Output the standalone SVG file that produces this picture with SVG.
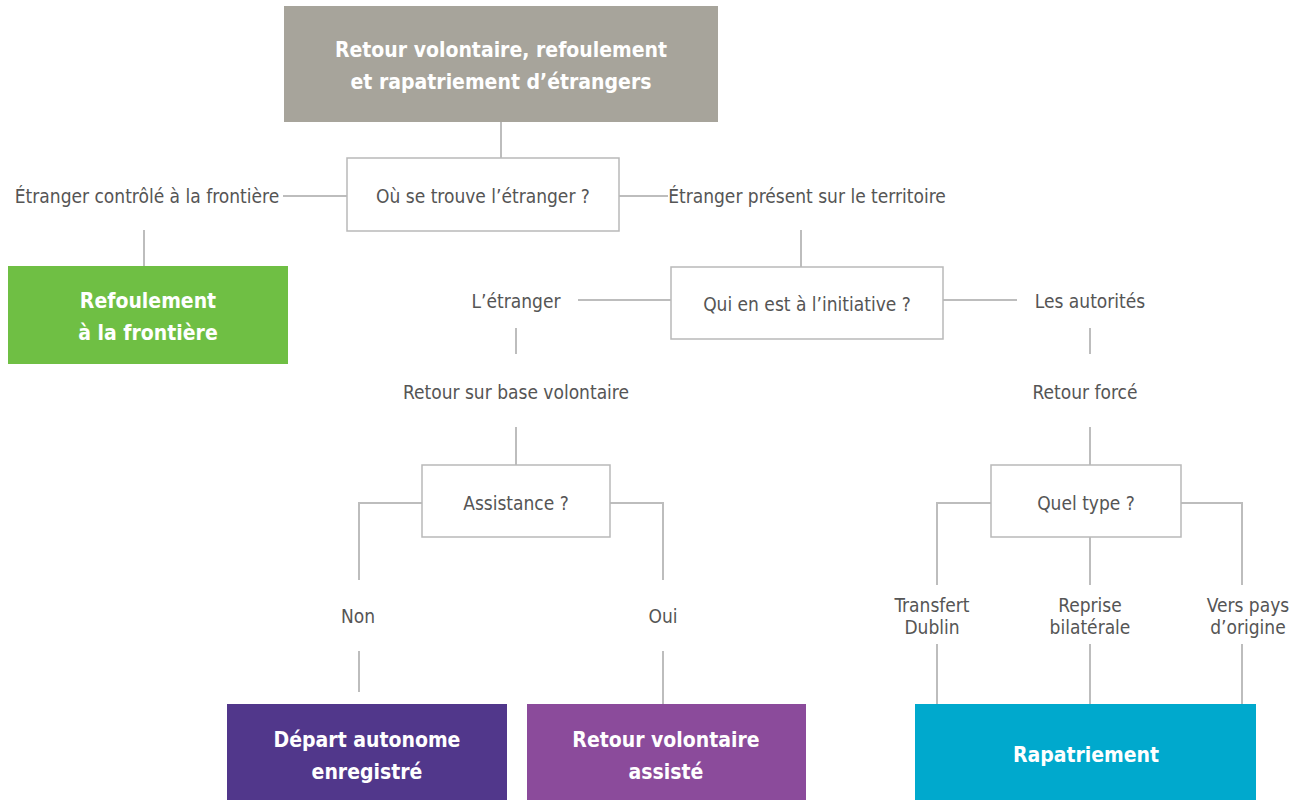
<svg xmlns="http://www.w3.org/2000/svg" width="1306" height="800" viewBox="0 0 1306 800">
<style>
.lbl{font-family:"DejaVu Sans Condensed","Liberation Sans Narrow","Liberation Sans",sans-serif;font-size:19px;fill:#555;text-anchor:middle}
.ttl{font-family:"DejaVu Sans Condensed","Liberation Sans Narrow","Liberation Sans",sans-serif;font-size:21px;font-weight:bold;fill:#fff;text-anchor:middle}
.q{fill:#fff;stroke:#b9b9b9;stroke-width:1.5}
.c{fill:none;stroke:#bdbdbd;stroke-width:2}
</style>
<rect width="1306" height="800" fill="#fff"/>
<g id="connectors">
<path class="c" d="M501 122V158"/>
<path class="c" d="M283 196H347M619 196H668"/>
<path class="c" d="M144 230V266"/>
<path class="c" d="M801 230V267"/>
<path class="c" d="M578 300H671M943 300H1017"/>
<path class="c" d="M516 328V354M516 427V465"/>
<path class="c" d="M422 503H359V580M610 503H663V580"/>
<path class="c" d="M359 651V692M663 651V704"/>
<path class="c" d="M1090 328V354M1090 427V465"/>
<path class="c" d="M991 503H937V585M1181 503H1242V585M1090 537V585"/>
<path class="c" d="M937 644V704M1090 644V704M1242 644V704"/>
</g>
<g id="title"><rect x="284" y="6" width="434" height="116" fill="#a7a49b"/>
<text class="ttl" x="501" y="57">Retour volontaire, refoulement</text>
<text class="ttl" x="501" y="89">et rapatriement d’étrangers</text></g>
<g id="q1"><rect class="q" x="347" y="158" width="272" height="73"/><text class="lbl" x="483" y="203">Où se trouve l’étranger ?</text></g>
<g id="lbl-frontiere"><text class="lbl" x="147" y="203">Étranger contrôlé à la frontière</text></g>
<g id="lbl-territoire"><text class="lbl" x="807" y="203">Étranger présent sur le territoire</text></g>
<g id="refoulement"><rect x="8" y="266" width="280" height="98" fill="#6fbf44"/>
<text class="ttl" x="148" y="308">Refoulement</text><text class="ttl" x="148" y="340">à la frontière</text></g>
<g id="q2"><rect class="q" x="671" y="267" width="272" height="72"/><text class="lbl" x="807" y="311">Qui en est à l’initiative ?</text></g>
<g id="lbl-etranger"><text class="lbl" x="516" y="308">L’étranger</text></g>
<g id="lbl-autorites"><text class="lbl" x="1090" y="308">Les autorités</text></g>
<g id="lbl-volontaire"><text class="lbl" x="516" y="399">Retour sur base volontaire</text></g>
<g id="lbl-force"><text class="lbl" x="1085" y="399">Retour forcé</text></g>
<g id="q3"><rect class="q" x="422" y="465" width="188" height="72"/><text class="lbl" x="516" y="510">Assistance ?</text></g>
<g id="q4"><rect class="q" x="991" y="465" width="190" height="72"/><text class="lbl" x="1086" y="510">Quel type ?</text></g>
<g id="lbl-non"><text class="lbl" x="358" y="623">Non</text></g>
<g id="lbl-oui"><text class="lbl" x="663" y="623">Oui</text></g>
<g id="lbl-dublin"><text class="lbl" x="932" y="612">Transfert</text><text class="lbl" x="932" y="634">Dublin</text></g>
<g id="lbl-bilaterale"><text class="lbl" x="1090" y="612">Reprise</text><text class="lbl" x="1090" y="634">bilatérale</text></g>
<g id="lbl-origine"><text class="lbl" x="1248" y="612">Vers pays</text><text class="lbl" x="1248" y="634">d’origine</text></g>
<g id="depart"><rect x="227" y="704" width="280" height="96" fill="#51378b"/>
<text class="ttl" x="367" y="747">Départ autonome</text><text class="ttl" x="367" y="779">enregistré</text></g>
<g id="assiste"><rect x="527" y="704" width="279" height="96" fill="#8b4b9b"/>
<text class="ttl" x="666" y="747">Retour volontaire</text><text class="ttl" x="666" y="779">assisté</text></g>
<g id="rapatriement"><rect x="915" y="704" width="341" height="96" fill="#00a9cd"/>
<text class="ttl" x="1086" y="762">Rapatriement</text></g>
</svg>
